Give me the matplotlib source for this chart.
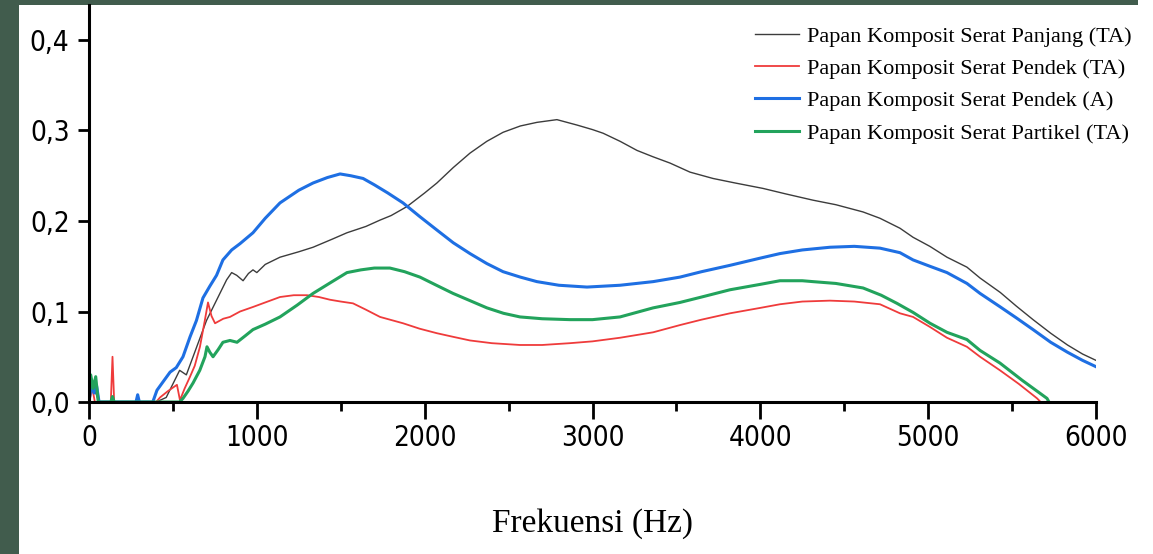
import matplotlib
matplotlib.use('Agg')
import matplotlib.pyplot as plt
from matplotlib import font_manager as fm
from matplotlib.patches import Rectangle
from matplotlib.ticker import MultipleLocator, FuncFormatter

# Data (frequency in Hz, amplitude)
f_panjang_ta = [0, 20, 40, 60, 400, 460, 500, 540, 580, 620, 660, 700, 740, 780, 820, 850, 880, 918,
                950, 977, 1000, 1050, 1138, 1250, 1335, 1450, 1537, 1650, 1734, 1800, 1895, 2000,
                2073, 2170, 2270, 2370, 2467, 2570, 2669, 2788, 2908, 3000, 3063, 3165, 3265,
                3360, 3462, 3581, 3718, 3850, 4016, 4150, 4314, 4450, 4612, 4713, 4832, 4910,
                5010, 5112, 5231, 5309, 5430, 5525, 5625, 5730, 5830, 5920, 6000]
v_panjang_ta = [0, 0.025, 0.01, 0, 0, 0.005, 0.02, 0.035, 0.03, 0.05, 0.07, 0.09, 0.105, 0.12, 0.135,
                0.143, 0.14, 0.134, 0.142, 0.146, 0.143, 0.152, 0.160, 0.166, 0.171, 0.180, 0.187,
                0.194, 0.201, 0.206, 0.216, 0.231, 0.242, 0.259, 0.275, 0.288, 0.298, 0.305, 0.309,
                0.312, 0.306, 0.301, 0.297, 0.288, 0.278, 0.271, 0.264, 0.254, 0.247, 0.242, 0.236,
                0.230, 0.223, 0.218, 0.210, 0.203, 0.192, 0.182, 0.172, 0.160, 0.149, 0.137, 0.121,
                0.106, 0.091, 0.076, 0.063, 0.053, 0.046]

f_pendek_ta = [0, 20, 35, 130, 140, 150, 400, 423, 470, 524, 542, 570, 602, 630, 661, 690, 709, 730,
               751, 800, 840, 900, 977, 1050, 1138, 1220, 1299, 1370, 1436, 1500, 1573, 1650, 1734,
               1871, 1970, 2073, 2170, 2270, 2400, 2568, 2700, 2866, 3000, 3164, 3361, 3521, 3650,
               3819, 4000, 4117, 4250, 4415, 4560, 4713, 4832, 4910, 5010, 5112, 5231, 5309, 5428,
               5540, 5649, 5670]
v_pendek_ta = [0, 0.015, 0, 0, 0.05, 0, 0, 0.005, 0.012, 0.019, 0.002, 0.015, 0.028, 0.04, 0.061, 0.09,
               0.110, 0.095, 0.087, 0.092, 0.094, 0.100, 0.105, 0.110, 0.116, 0.118, 0.118, 0.116,
               0.113, 0.111, 0.109, 0.102, 0.094, 0.087, 0.081, 0.076, 0.072, 0.068, 0.065, 0.063,
               0.063, 0.065, 0.067, 0.071, 0.077, 0.085, 0.091, 0.098, 0.104, 0.108, 0.111, 0.112,
               0.111, 0.108, 0.098, 0.094, 0.083, 0.071, 0.061, 0.050, 0.035, 0.020, 0.004, 0]

f_pendek_a = [0, 15, 30, 45, 60, 280, 290, 300, 380, 405, 440, 483, 520, 560, 602, 640, 679, 720, 760,
              798, 850, 900, 977, 1050, 1138, 1250, 1335, 1420, 1496, 1560, 1633, 1700, 1780, 1871,
              1970, 2073, 2170, 2270, 2370, 2467, 2570, 2669, 2800, 2967, 3164, 3361, 3521, 3650,
              3819, 4000, 4117, 4250, 4415, 4560, 4713, 4832, 4910, 5010, 5112, 5231, 5309, 5430,
              5525, 5625, 5730, 5830, 5920, 6000]
v_pendek_a = [0, 0.02, 0.01, 0.018, 0, 0, 0.008, 0, 0, 0.013, 0.022, 0.033, 0.038, 0.05, 0.072, 0.09,
              0.115, 0.128, 0.14, 0.157, 0.168, 0.175, 0.187, 0.203, 0.220, 0.234, 0.242, 0.248,
              0.252, 0.250, 0.247, 0.240, 0.231, 0.220, 0.205, 0.190, 0.176, 0.164, 0.153, 0.144,
              0.138, 0.133, 0.129, 0.127, 0.129, 0.133, 0.138, 0.144, 0.151, 0.159, 0.164, 0.168,
              0.171, 0.172, 0.170, 0.165, 0.157, 0.150, 0.143, 0.131, 0.120, 0.105, 0.093, 0.080,
              0.066, 0.055, 0.046, 0.039]

f_partikel_ta = [0, 10, 25, 40, 55, 130, 140, 150, 540, 560, 590, 620, 660, 691, 703, 720, 739, 770,
                 798, 840, 882, 930, 977, 1050, 1138, 1240, 1335, 1440, 1537, 1620, 1700, 1793, 1880,
                 1972, 2070, 2169, 2270, 2371, 2470, 2568, 2700, 2866, 3000, 3164, 3361, 3521, 3650,
                 3819, 4000, 4117, 4250, 4314, 4450, 4612, 4720, 4814, 4910, 5011, 5112, 5231, 5309,
                 5428, 5560, 5708, 5720]
v_partikel_ta = [0, 0.03, 0.015, 0.028, 0, 0, 0.006, 0, 0, 0.004, 0.012, 0.021, 0.035, 0.050, 0.061,
                 0.055, 0.050, 0.058, 0.066, 0.068, 0.066, 0.073, 0.080, 0.086, 0.094, 0.107, 0.120,
                 0.132, 0.143, 0.146, 0.148, 0.148, 0.144, 0.138, 0.129, 0.120, 0.112, 0.104, 0.098,
                 0.094, 0.092, 0.091, 0.091, 0.094, 0.104, 0.110, 0.116, 0.124, 0.130, 0.134, 0.134,
                 0.133, 0.131, 0.126, 0.118, 0.109, 0.099, 0.087, 0.077, 0.069, 0.057, 0.043, 0.024,
                 0.004, 0]

labels = ['Papan Komposit Serat Panjang (TA)', 'Papan Komposit Serat Pendek (TA)',
          'Papan Komposit Serat Pendek (A)', 'Papan Komposit Serat Partikel (TA)']


# narrow sans for the tick numbers if one is installed
def narrow_sans():
    for f in fm.fontManager.ttflist:
        if f.name == 'Liberation Sans Narrow':
            return {'family': 'Liberation Sans Narrow', 'size': 22}
    for f in fm.fontManager.ttflist:
        if f.name == 'DejaVu Sans' and f.stretch in ('condensed', 'semi-condensed'):
            return {'family': 'DejaVu Sans', 'stretch': 'condensed', 'size': 20}
    return {'family': 'Liberation Sans', 'size': 19}


tick_font = narrow_sans()

fig = plt.figure(figsize=(11.53, 5.54), dpi=100, facecolor='#415c4d')
fig.patches.append(Rectangle((19 / 1153, 0), 1, 1 - 5 / 554, transform=fig.transFigure,
                             facecolor='white', edgecolor='none', zorder=-10))
fig.patches.append(Rectangle((1138 / 1153, 0.5), 1, 1, transform=fig.transFigure,
                             facecolor='white', edgecolor='none', zorder=-10))

ax = fig.add_axes([89 / 1153, (554 - 402) / 554, 1007 / 1153, (402 - 5) / 554])
ax.set_facecolor('none')

ax.plot(f_panjang_ta, v_panjang_ta, color='#3c3c3c', lw=1.0, label=labels[0])
ax.plot(f_pendek_ta, v_pendek_ta, color='#ef3b3b', lw=1.3, label=labels[1])
ax.plot(f_pendek_a, v_pendek_a, color='#1e6fe3', lw=2.2, label=labels[2])
ax.plot(f_partikel_ta, v_partikel_ta, color='#22a35c', lw=2.2, label=labels[3])

ax.set_xlim(0, 6000)
ax.set_ylim(0, (402 - 5) / 905)

for s in ['top', 'right']:
    ax.spines[s].set_visible(False)
for s in ['left', 'bottom']:
    ax.spines[s].set_linewidth(2.2)

ax.xaxis.set_major_locator(MultipleLocator(1000))
ax.xaxis.set_minor_locator(MultipleLocator(500))
ax.yaxis.set_major_locator(MultipleLocator(0.1))
ax.yaxis.set_major_formatter(FuncFormatter(lambda v, p: f'{v:.1f}'.replace('.', ',')))
ax.tick_params(axis='x', which='major', length=12, width=2, pad=4)
ax.tick_params(axis='x', which='minor', length=6.5, width=2)
ax.tick_params(axis='y', which='major', length=8, width=2, pad=6)
for lab in ax.get_xticklabels() + ax.get_yticklabels():
    lab.set_fontproperties(fm.FontProperties(**tick_font))

ax.set_xlabel('Frekuensi (Hz)', fontfamily='Liberation Serif', fontsize=24, labelpad=40)

ax.legend(loc='upper left', bbox_to_anchor=(755 / 1153, 1 - 26 / 554), bbox_transform=fig.transFigure,
          frameon=False, prop={'family': 'Liberation Serif', 'size': 16}, borderpad=0,
          borderaxespad=0, handlelength=2.0, handletextpad=0.35, labelspacing=0.53)

plt.savefig('out.png', dpi=100, facecolor=fig.get_facecolor())
